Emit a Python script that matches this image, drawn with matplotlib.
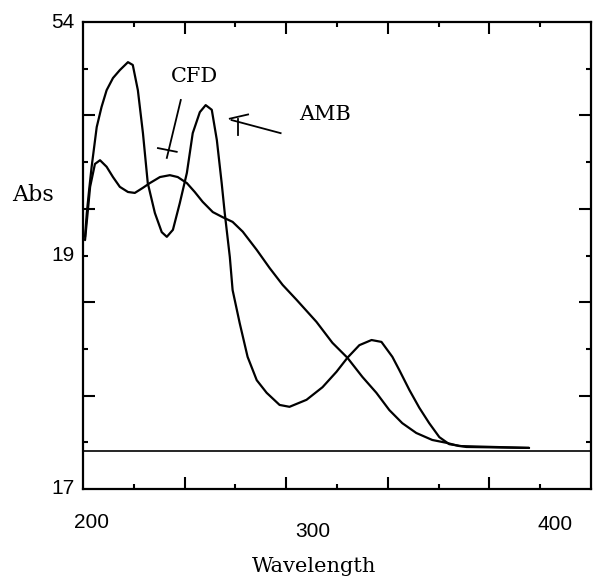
import matplotlib
matplotlib.use('Agg')
import matplotlib.pyplot as plt

# spectra (wavelength nm, absorbance in grid units 0..10)
amb_x = [200.8, 201.5, 202.4, 203.4, 205.4, 207.3, 209.3, 211.8, 214.5, 217.7,
         219.6, 221.6, 223.6, 225.5, 228.3, 231.0, 233.0, 235.4, 238.1, 240.9,
         243.2, 246.0, 248.3, 250.7, 252.7, 254.6, 255.8, 257.8, 258.9, 261.7,
         264.8, 268.4, 272.3, 277.4, 281.3, 288.0, 294.3, 299.8, 304.1, 308.8,
         313.6, 317.5, 321.8, 324.5, 328.5, 332.4, 336.3, 340.3, 344.2, 350.9,
         375.6]
amb_y = [5.40, 5.91, 6.40, 6.90, 7.75, 8.18, 8.54, 8.80, 8.97, 9.14,
         9.08, 8.54, 7.62, 6.55, 5.91, 5.50, 5.40, 5.55, 6.12, 6.77,
         7.62, 8.07, 8.22, 8.12, 7.47, 6.55, 5.91, 4.97, 4.26, 3.55,
         2.83, 2.33, 2.06, 1.80, 1.76, 1.91, 2.18, 2.51, 2.81, 3.08,
         3.19, 3.15, 2.83, 2.55, 2.12, 1.74, 1.41, 1.11, 0.96, 0.90,
         0.88]

cfd_x = [200.8, 202.8, 204.7, 206.7, 209.3, 211.8, 214.5, 217.7, 220.4, 223.6,
         226.3, 230.3, 234.2, 237.3, 240.9, 244.0, 247.1, 251.1, 255.0, 258.9,
         262.9, 268.4, 273.5, 278.6, 284.1, 291.9, 298.2, 304.1, 310.0, 315.5,
         320.6, 325.7, 331.2, 337.5, 343.0, 348.1, 375.6]
cfd_y = [5.33, 6.47, 6.96, 7.04, 6.90, 6.68, 6.47, 6.36, 6.34, 6.45,
         6.55, 6.68, 6.72, 6.68, 6.55, 6.36, 6.15, 5.93, 5.82, 5.72,
         5.51, 5.12, 4.73, 4.37, 4.05, 3.58, 3.13, 2.81, 2.40, 2.06,
         1.69, 1.41, 1.20, 1.05, 0.99, 0.92, 0.88]

baseline = 0.81

x_lim = (200, 400)
y_lim = (0, 10)
x_major = [240, 280, 320, 360]
x_minor = [220, 260, 300, 340, 380]
y_major = [2, 4, 6, 8]
y_minor = [1, 3, 5, 7, 9]

x_labels = ['200', '300', '400']
x_label_pos = [203.5, 290.4, 385.9]
x_label_off = [-0.071, -0.090, -0.075]
y_labels = ['54', '19', '17']
y_label_pos = [10, 5, 0]

fig = plt.figure(figsize=(5.93, 5.81), dpi=100)
ax = fig.add_axes([83 / 593, 92 / 581, 508 / 593, 467 / 581])

line_kw = dict(color='black', lw=1.6, solid_joinstyle='round',
               solid_capstyle='round')
ax.plot(amb_x, amb_y, **line_kw)
ax.plot(cfd_x, cfd_y, **line_kw)
ax.axhline(baseline, color='black', lw=1.2)

ax.set_xlim(x_lim)
ax.set_ylim(y_lim)
for s in ax.spines.values():
    s.set_linewidth(1.6)

ax.set_xticks(x_major)
ax.set_xticks(x_minor, minor=True)
ax.set_yticks(y_major)
ax.set_yticks(y_minor, minor=True)
ax.tick_params(which='both', direction='in', top=True, right=True,
               labelbottom=False, labelleft=False, width=1.5)
ax.tick_params(which='major', length=8.4)
ax.tick_params(which='minor', length=3.6)

num_font = dict(family='Liberation Sans', fontsize=15)
for lab, xp, yo in zip(x_labels, x_label_pos, x_label_off):
    ax.text(xp, yo, lab, transform=ax.get_xaxis_transform(),
            ha='center', va='center', **num_font)
for lab, yp in zip(y_labels, y_label_pos):
    ax.text(-0.016, yp, lab, transform=ax.get_yaxis_transform(),
            ha='right', va='center', **num_font)

ser = dict(family='DejaVu Serif', fontsize=15)
ax.text(-0.098, 6.30, 'Abs', transform=ax.get_yaxis_transform(),
        ha='center', va='center', family='DejaVu Serif', fontsize=16)
ax.text(290.8, -0.167, 'Wavelength', transform=ax.get_xaxis_transform(),
        ha='center', va='center', **ser)

# annotations with hand-drawn style pointers
ax.text(244.0, 8.84, 'CFD', ha='center', va='center', **ser)
ax.plot([238.5, 233.0], [8.33, 7.09], color='black', lw=1.3)
ax.plot([229.5, 236.9], [7.30, 7.22], color='black', lw=1.3)

ax.text(295.1, 8.01, 'AMB', ha='center', va='center', **ser)
ax.plot([277.8, 258.5], [7.62, 7.90], color='black', lw=1.3)
ax.plot([257.8, 265.0], [7.93, 8.02], color='black', lw=1.3)
ax.plot([260.9, 260.9], [7.92, 7.58], color='black', lw=1.3)

fig.savefig('out.png', dpi=100)
